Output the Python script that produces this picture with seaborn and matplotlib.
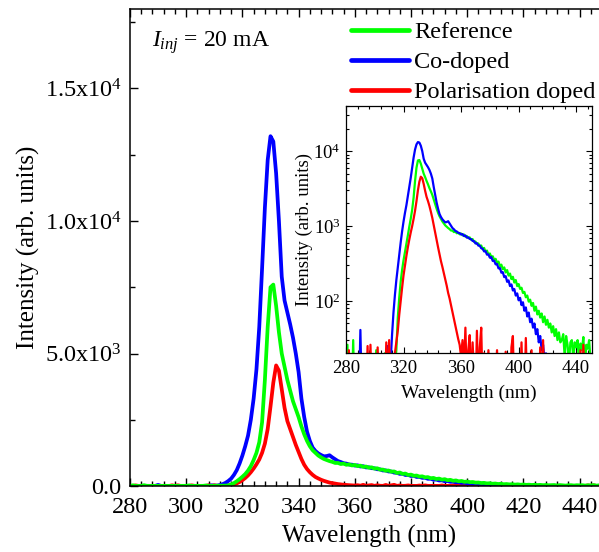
import numpy as np
import pandas as pd
import matplotlib
matplotlib.use("Agg")
import matplotlib.pyplot as plt
from matplotlib.lines import Line2D
from matplotlib.ticker import MultipleLocator, FixedLocator, FixedFormatter, LogLocator, LogFormatterMathtext, NullFormatter
import seaborn as sns

# Electroluminescence spectra at 20 mA injection, sampled every 1 nm (280-450 nm)
wavelength = np.arange(280, 451)

reference = [
    5, 26, 4, 6, 5, 30, 4, 5, 6, 4,
    5, 4, 6, 5, 4, 5, 6, 4, 5, 6,
    5, 22, 4, 6, 5, 4, 6, 20, 5, 6,
    5, 8, 6, 10, 14, 22, 60, 110, 180, 260,
    350, 450, 580, 750, 980, 1250, 1650, 2400, 4000, 6000,
    7500, 7600, 6800, 5800, 5000, 4500, 4000, 3600, 3200, 2900,
    2600, 2250, 1950, 1700, 1500, 1350, 1250, 1150, 1080, 1020,
    980, 940, 910, 870, 870, 830, 845, 800, 815, 775,
    795, 750, 770, 720, 735, 690, 705, 655, 670, 615,
    620, 575, 585, 540, 550, 490, 510, 455, 470, 415,
    430, 385, 395, 355, 365, 325, 335, 292, 305, 265,
    280, 240, 258, 218, 232, 196, 210, 176, 190, 158,
    168, 145, 150, 128, 132, 112, 118, 98, 104, 86,
    94, 74, 84, 66, 74, 60, 68, 52, 62, 48,
    56, 44, 50, 38, 46, 34, 42, 30, 38, 28,
    30, 36, 18, 34, 26, 15, 28, 30, 17, 28,
    24, 30, 14, 27, 22, 33, 12, 26, 23, 30,
    16,
]

co_doped = [
    4, 5, 6, 4, 5, 6, 4, 5, 6, 5,
    41, 5, 4, 6, 5, 4, 6, 5, 4, 6,
    5, 4, 6, 5, 4, 6, 5, 4, 6, 25,
    8, 15, 35, 70, 120, 190, 280, 420, 600, 850,
    1150, 1500, 1900, 2500, 3300, 4400, 6000, 8200, 10500, 12300,
    13200, 13000, 11800, 10000, 7900, 7000, 6550, 6100, 5600, 5000,
    4300, 3300, 2600, 2050, 1700, 1450, 1320, 1230, 1170, 1120,
    1130, 1160, 1080, 1010, 940, 905, 860, 845, 810, 805,
    770, 780, 735, 748, 700, 706, 672, 668, 632, 628,
    585, 590, 548, 546, 505, 498, 458, 462, 415, 418,
    378, 385, 342, 345, 308, 312, 272, 276, 238, 242,
    208, 214, 180, 188, 158, 166, 138, 144, 118, 126,
    102, 110, 88, 96, 74, 82, 62, 70, 52, 58,
    44, 50, 36, 42, 28, 34, 22, 26, 16, 20,
    12, 17, 8, 10, 6, 9, 5, 7, 5, 6,
    4, 6, 5, 4, 6, 5, 4, 6, 5, 4,
    5, 6, 4, 5, 6, 4, 5, 6, 4, 5,
    4,
]

polarisation_doped = [
    5, 4, 22, 5, 6, 4, 5, 6, 4, 5,
    6, 4, 5, 6, 5, 25, 4, 26, 5, 6,
    4, 5, 24, 6, 4, 5, 6, 5, 28, 6,
    30, 8, 12, 16, 20, 28, 40, 65, 100, 150,
    220, 300, 400, 520, 660, 820, 1000, 1250, 1600, 2150,
    3000, 3900, 4550, 4350, 3650, 2950, 2450, 2150, 1850, 1550,
    1280, 1020, 800, 640, 520, 420, 340, 285, 235, 195,
    160, 128, 108, 88, 72, 58, 47, 38, 31, 26,
    18, 30, 12, 44, 8, 22, 35, 6, 28, 10,
    5, 40, 7, 24, 44, 6, 20, 5, 8, 22,
    5, 6, 4, 18, 5, 22, 6, 4, 5, 6,
    4, 21, 5, 6, 4, 24, 34, 5, 6, 4,
    5, 6, 28, 5, 4, 32, 6, 5, 4, 22,
    6, 5, 4, 6, 5, 24, 6, 30, 5, 4,
    5, 6, 4, 5, 6, 4, 5, 6, 4, 5,
    6, 4, 5, 6, 4, 5, 6, 4, 5, 6,
    4, 5, 6, 22, 4, 26, 5, 6, 4, 5,
    6,
]

series_names = ["Reference", "Co-doped", "Polarisation doped"]
series_colors = ["#00ff00", "#0000ff", "#ff0000"]

main_yticks = [0, 5000, 10000, 15000]
main_yticklabels = ["0.0", r"5.0x10$^{3}$", r"1.0x10$^{4}$", r"1.5x10$^{4}$"]
main_xticks = [280, 300, 320, 340, 360, 380, 400, 420, 440]
inset_xticks = [280, 320, 360, 400, 440]

df = pd.DataFrame({
    "Wavelength (nm)": np.concatenate([wavelength] * 3),
    "Intensity": np.concatenate([reference, co_doped, polarisation_doped]),
    "Sample": np.repeat(series_names, len(wavelength)),
})
palette = dict(zip(series_names, series_colors))

sns.set_theme(style="ticks")
plt.rcParams.update({
    "font.family": ["Liberation Serif", "DejaVu Serif"],
    "mathtext.fontset": "custom",
    "mathtext.rm": "Liberation Serif",
    "mathtext.it": "Liberation Serif:italic",
    "mathtext.bf": "Liberation Serif:bold",
    "axes.linewidth": 1.1,
    "axes.edgecolor": "black",
    "xtick.color": "black",
    "ytick.color": "black",
    "text.color": "black",
    "axes.labelcolor": "black",
})

fig = plt.figure(figsize=(5.99, 5.52), dpi=100)
fig.patch.set_facecolor("white")

# ---- main panel (linear scale) ----
ax = fig.add_axes([130 / 599, 1 - 486 / 552, 477.7 / 599, 477 / 552])
sns.lineplot(data=df, x="Wavelength (nm)", y="Intensity", hue="Sample",
             hue_order=["Polarisation doped", "Co-doped", "Reference"],
             palette=palette, linewidth=2.7, ax=ax, legend=False)
ax.set_xlim(280, 450)
ax.set_ylim(0, 18000)
ax.xaxis.set_major_locator(FixedLocator(main_xticks))
ax.xaxis.set_minor_locator(MultipleLocator(4))
ax.yaxis.set_major_locator(FixedLocator(main_yticks))
ax.yaxis.set_major_formatter(FixedFormatter(main_yticklabels))
ax.yaxis.set_minor_locator(MultipleLocator(2500))
ax.tick_params(which="both", direction="in", top=True, right=True, labelsize=17.5, width=1.0)
ax.tick_params(axis="x", pad=8)
ax.tick_params(axis="y", pad=6)
ax.tick_params(which="major", length=6)
ax.tick_params(which="minor", length=3.5)
ax.set_xlabel("Wavelength (nm)", fontsize=18, labelpad=5)
ax.set_ylabel("Intensity (arb. units)", fontsize=18, labelpad=3)
ax.text(0.047, 0.93, r"$I_{inj}$ = 20 mA", transform=ax.transAxes, fontsize=17,
        ha="left", va="center")

handles = [Line2D([], [], color=c, linewidth=3.4) for c in series_colors]
ax.legend(handles, series_names, loc="upper left",
          bbox_to_anchor=(351 / 599, 1 - 21 / 552), bbox_transform=fig.transFigure,
          frameon=False, fontsize=17.5, handlelength=2.4, handletextpad=0.2,
          labelspacing=0.33, borderpad=0, borderaxespad=0)

# ---- inset (log scale) ----
ins = fig.add_axes([346 / 599, 1 - 353.3 / 552, 246 / 599, 247.3 / 552])
ins.set_facecolor("white")
sns.lineplot(data=df, x="Wavelength (nm)", y="Intensity", hue="Sample",
             hue_order=["Reference", "Co-doped", "Polarisation doped"],
             palette=palette, linewidth=1.6, ax=ins, legend=False)
ins.set_yscale("log")
ins.set_xlim(280, 451)
ins.set_ylim(20, 40000)
ins.xaxis.set_major_locator(FixedLocator(inset_xticks))
ins.xaxis.set_minor_locator(MultipleLocator(8))
ins.yaxis.set_major_locator(LogLocator(base=10, numticks=10))
ins.yaxis.set_major_formatter(LogFormatterMathtext())
ins.yaxis.set_minor_locator(LogLocator(base=10, subs=np.arange(2, 10), numticks=10))
ins.yaxis.set_minor_formatter(NullFormatter())
ins.tick_params(which="both", direction="in", top=True, right=True, labelsize=13.5, width=0.8)
ins.tick_params(axis="x", pad=5)
ins.tick_params(axis="y", pad=4)
ins.tick_params(which="major", length=4.5)
ins.tick_params(which="minor", length=2.5)
ins.set_xlabel("Wavelength (nm)", fontsize=14, labelpad=5)
ins.set_ylabel("Intensity (arb. units)", fontsize=13.5, labelpad=0)
for sp in ins.spines.values():
    sp.set_linewidth(0.9)

fig.savefig("out.png", dpi=100)
